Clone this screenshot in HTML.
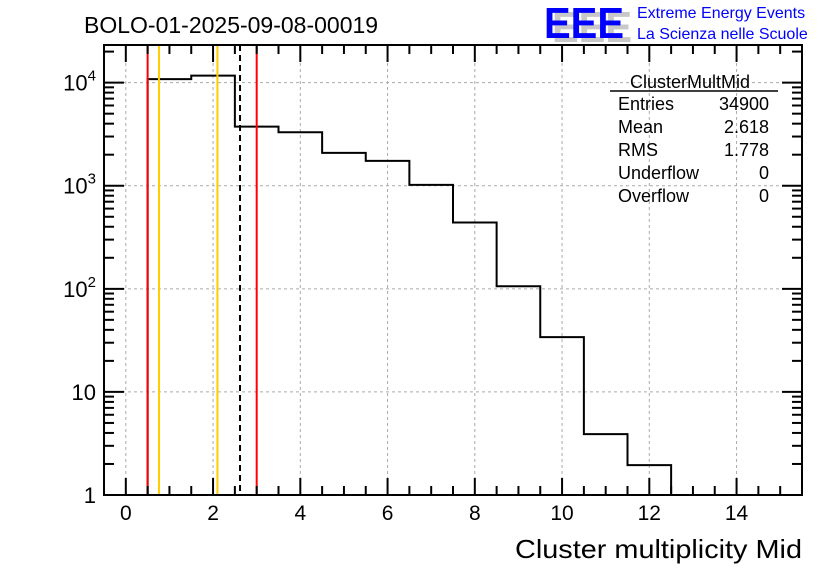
<!DOCTYPE html>
<html><head><meta charset="utf-8"><style>
html,body{margin:0;padding:0;background:#fff;}
svg{display:block;font-family:"Liberation Sans",sans-serif;}
</style></head><body>
<svg id="c" width="836" height="572" viewBox="0 0 836 572">
<rect width="836" height="572" fill="#fff"/>
<text x="84" y="33" font-size="23">BOLO-01-2025-09-08-00019</text>
<g>
<text x="552" y="42" font-size="44" font-weight="bold" fill="#c8c8c8" textLength="80" lengthAdjust="spacingAndGlyphs">EEE</text>
<text x="544" y="38" font-size="44" font-weight="bold" fill="#0000ff" textLength="80" lengthAdjust="spacingAndGlyphs">EEE</text>
<text x="637" y="18" font-size="16" fill="#0000ff">Extreme Energy Events</text>
<text x="637" y="39" font-size="16" fill="#0000ff">La Scienza nelle Scuole</text>
</g>
<g id="grid"></g>
<g id="marks"></g>
<g id="axes"></g>
<g font-size="18">
<text x="690" y="88" text-anchor="middle">ClusterMultMid</text>
<line x1="610" y1="91" x2="778" y2="91" stroke="#000" stroke-width="1.5"/>
<text x="618" y="110">Entries</text><text x="769" y="110" text-anchor="end">34900</text>
<text x="618" y="133">Mean</text><text x="769" y="133" text-anchor="end">2.618</text>
<text x="618" y="156">RMS</text><text x="769" y="156" text-anchor="end">1.778</text>
<text x="618" y="179">Underflow</text><text x="769" y="179" text-anchor="end">0</text>
<text x="618" y="202">Overflow</text><text x="769" y="202" text-anchor="end">0</text>
</g>
<text x="802" y="558" font-size="26" text-anchor="end" textLength="287" lengthAdjust="spacingAndGlyphs">Cluster multiplicity Mid</text>
</svg>
<script>
const binLow = [0.5,1.5,2.5,3.5,4.5,5.5,6.5,7.5,8.5,9.5,10.5,11.5];
const counts = [10800,11700,3740,3300,2080,1740,1020,440,106,34,3.9,1.95];
const xTicks = [0,2,4,6,8,10,12,14];
const yTicks = [1,10,100,1000,10000];
const yTickBase = ["1","10","10","10","10"];
const yTickExp = ["","","2","3","4"];
const vLines = [{x:0.5,c:"#ff0000",d:""},{x:3.0,c:"#ff0000",d:""},{x:0.76,c:"#ffcc00",d:""},{x:2.1,c:"#ffcc00",d:""},{x:2.618,c:"#000",d:"6,4"}];
const L=104,R=802,T=45,B=495, xmin=-0.5,xmax=15.5, lmin=0, lmax=4.365;
const X=v=>L+(v-xmin)/(xmax-xmin)*(R-L);
const Y=v=>B-(Math.log10(v)-lmin)/(lmax-lmin)*(B-T);
const NS="http://www.w3.org/2000/svg";
function mk(tag,attrs,parent,txt){const e=document.createElementNS(NS,tag);for(const k in attrs)e.setAttribute(k,attrs[k]);if(txt!==undefined)e.textContent=txt;(typeof parent==='string'?document.getElementById(parent):parent).appendChild(e);return e;}
xTicks.forEach(t=>{const g=mk('line',{x1:X(t),x2:X(t),y1:T,y2:B,stroke:'#aaa','stroke-dasharray':'3,3'},'grid');

});
yTicks.slice(1).forEach(t=>{const g=mk('line',{x1:L,x2:R,y1:Y(t),y2:Y(t),stroke:'#aaa','stroke-dasharray':'3,3'},'grid');

});
let d='M'+X(binLow[0])+','+B;
binLow.forEach((lo,i)=>{const y=Y(counts[i]);d+=' L'+X(lo)+','+y+' L'+X(lo+1)+','+y;});
d+=' L'+X(binLow[binLow.length-1]+1)+','+B;
const h=mk('path',{d:d,fill:'none',stroke:'#000','stroke-width':2},'marks');


vLines.forEach(v=>{const l=mk('line',{x1:X(v.x),x2:X(v.x),y1:T,y2:B,stroke:v.c,'stroke-width':2,'stroke-dasharray':v.d},'marks');

});
const f=mk('rect',{x:L,y:T,width:R-L,height:B-T,fill:'none',stroke:'#000','stroke-width':2},'axes');


for(let v=0;v<=15.5;v+=0.5){const major=(v%2===0);const len=major?17:9;
mk('line',{x1:X(v),x2:X(v),y1:B,y2:B-len,stroke:'#000','stroke-width':2},'axes');
mk('line',{x1:X(v),x2:X(v),y1:T,y2:T+len,stroke:'#000','stroke-width':2},'axes');}
xTicks.forEach(t=>{const e=mk('text',{x:X(t),y:B+25,'font-size':21,'text-anchor':'middle'},'axes',String(t));

});
for(let p=0;p<=4;p++){for(let m=1;m<10;m++){const v=m*Math.pow(10,p);if(Math.log10(v)>lmax)break;const len=m===1?20:10;
mk('line',{x1:L,x2:L+len,y1:Y(v),y2:Y(v),stroke:'#000','stroke-width':2},'axes');
mk('line',{x1:R,x2:R-len,y1:Y(v),y2:Y(v),stroke:'#000','stroke-width':2},'axes');}}
yTicks.forEach((t,i)=>{const e=mk('text',{x:L-8,y:Y(t)+8,'font-size':22,'text-anchor':'end'},'axes');


mk('tspan',{},e,yTickBase[i]);
if(yTickExp[i])mk('tspan',{'font-size':15,dy:-10},e,yTickExp[i]);});
</script>
</body></html>
